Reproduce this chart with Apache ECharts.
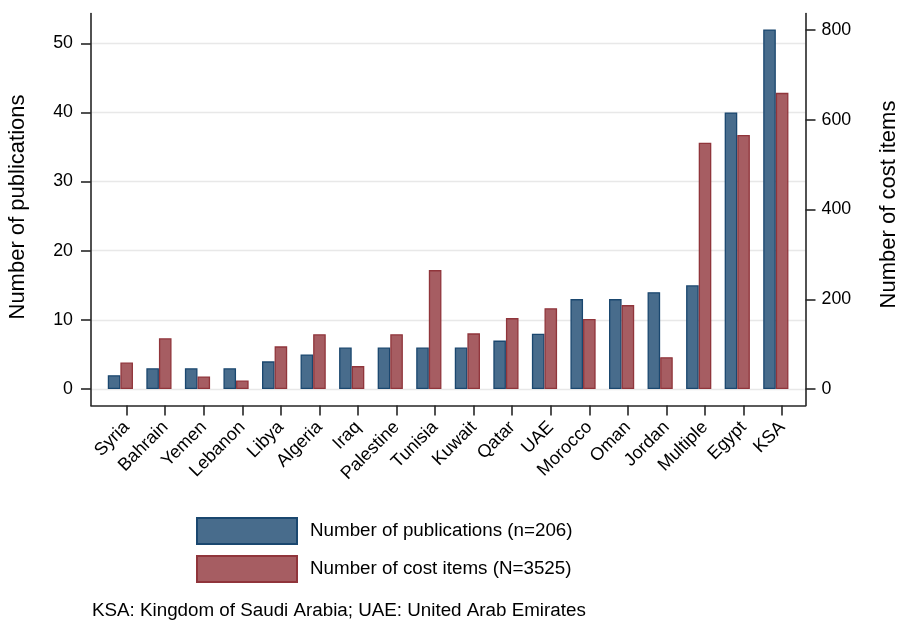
<!DOCTYPE html>
<html>
<head>
<meta charset="utf-8">
<script src="https://cdn.jsdelivr.net/npm/echarts@6/dist/echarts.min.js"></script>
<style>
  html, body { margin: 0; padding: 0; background: #ffffff; }
  #chart { width: 899px; height: 624px; }
</style>
</head>
<body>
<div id="chart"></div>
<script>
// Countries, ordered by number of publications
const categories = ['Syria', 'Bahrain', 'Yemen', 'Lebanon', 'Libya', 'Algeria', 'Iraq', 'Palestine',
  'Tunisia', 'Kuwait', 'Qatar', 'UAE', 'Morocco', 'Oman', 'Jordan', 'Multiple', 'Egypt', 'KSA'];

// Number of publications per country (left axis)
const publications = [2, 3, 3, 3, 4, 5, 6, 6, 6, 6, 7, 8, 13, 13, 14, 15, 40, 52];

// Number of cost items per country (right axis)
const costItems = [59, 113, 28, 19, 95, 122, 51, 122, 265, 124, 158, 180, 156, 187, 71, 549, 566, 660];

// Tick labels
const leftTicks = [0, 10, 20, 30, 40, 50];
const rightTicks = [0, 200, 400, 600, 800];

const seriesNames = ['Number of publications (n=206)', 'Number of cost items (N=3525)'];
const noteText = 'KSA: Kingdom of Saudi Arabia; UAE: United Arab Emirates';

// Axis extents: both value axes share the zero line, with a margin below zero
const LEFT_MIN = -2.386, LEFT_MAX = 54.31;
const RIGHT_MIN = -36.77, RIGHT_MAX = 836.8;

const FONT = "'Liberation Sans', Arial, Helvetica, sans-serif";
const NAVY = '#1a476f', NAVY_FILL = '#486c8c';
const MAROON = '#90353b', MAROON_FILL = '#a65d62';
const AXIS_COLOR = '#262626';

const chart = echarts.init(document.getElementById('chart'), null, { renderer: 'canvas' });

const hiddenAxis = {
  axisLine: { show: false }, axisTick: { show: false },
  axisLabel: { show: false }, splitLine: { show: false }
};

const gridBase = { top: 13.5, bottom: 218.5, outerBoundsMode: 'none', containLabel: false };

const option = {
  backgroundColor: '#ffffff',
  animation: false,
  textStyle: { fontFamily: FONT, color: '#000' },
  title: {
    text: noteText,
    left: 92, top: 601, padding: 0,
    textStyle: { fontFamily: FONT, fontSize: 18.8, fontWeight: 'normal', color: '#000' }
  },
  legend: {
    orient: 'vertical',
    left: 196, top: 517, padding: 0,
    itemWidth: 100, itemHeight: 26, itemGap: 10,
    icon: 'rect',
    textStyle: { fontFamily: FONT, fontSize: 18.8, color: '#000', padding: [0, 0, 0, 8] },
    data: seriesNames
  },
  grid: [
    // frame: axis lines, gridlines, value labels
    Object.assign({ left: 91, right: 93.5 }, gridBase),
    // bars
    Object.assign({ left: 101.1, width: 694 }, gridBase),
    // category ticks and labels
    Object.assign({ left: 107.4, width: 694 }, gridBase)
  ],
  xAxis: [
    {
      gridIndex: 0, type: 'value', min: 0, max: 1, position: 'bottom',
      axisLine: { show: true, onZero: false, lineStyle: { color: AXIS_COLOR, width: 1.6 } },
      axisTick: { show: false }, axisLabel: { show: false }, splitLine: { show: false }
    },
    Object.assign({ gridIndex: 1, type: 'category', data: categories }, hiddenAxis),
    {
      gridIndex: 2, type: 'category', data: categories, position: 'bottom',
      axisLine: { show: false, onZero: false },
      axisTick: { show: true, alignWithLabel: true, length: 10, inside: false,
        lineStyle: { color: AXIS_COLOR, width: 1.6 } },
      axisLabel: { interval: 0, rotate: 45, margin: 19, fontSize: 18, fontFamily: FONT, color: '#000' },
      splitLine: { show: false }
    }
  ],
  yAxis: [
    {
      gridIndex: 0, type: 'value', min: LEFT_MIN, max: LEFT_MAX, position: 'left',
      name: 'Number of publications', nameLocation: 'middle', nameGap: 62, nameRotate: 90,
      nameTextStyle: { fontFamily: FONT, fontSize: 22, color: '#000', padding: [0, 0, 0, 5] },
      axisLine: { show: true, onZero: false, lineStyle: { color: AXIS_COLOR, width: 1.6 } },
      axisTick: { show: true, length: 10, customValues: leftTicks, lineStyle: { color: AXIS_COLOR, width: 1.6 } },
      axisLabel: { customValues: leftTicks, margin: 18, fontSize: 17.8, fontFamily: FONT, color: '#000' },
      splitLine: { show: true, lineStyle: { color: '#e8e8e8', width: 1.4 } }
    },
    {
      gridIndex: 0, type: 'value', min: RIGHT_MIN, max: RIGHT_MAX, position: 'right',
      name: 'Number of cost items', nameLocation: 'middle', nameGap: 72, nameRotate: 90,
      nameTextStyle: { fontFamily: FONT, fontSize: 22, color: '#000', padding: [0, 0, 0, 10] },
      axisLine: { show: true, onZero: false, lineStyle: { color: AXIS_COLOR, width: 1.6 } },
      axisTick: { show: true, length: 10, customValues: rightTicks, lineStyle: { color: AXIS_COLOR, width: 1.6 } },
      axisLabel: { customValues: rightTicks, margin: 16, fontSize: 17.8, fontFamily: FONT, color: '#000' },
      splitLine: { show: false }
    },
    Object.assign({ gridIndex: 1, type: 'value', min: LEFT_MIN, max: LEFT_MAX }, hiddenAxis),
    Object.assign({ gridIndex: 1, type: 'value', min: RIGHT_MIN, max: RIGHT_MAX, position: 'right' }, hiddenAxis),
    Object.assign({ gridIndex: 2, type: 'value', min: 0, max: 1 }, hiddenAxis)
  ],
  series: [
    {
      name: seriesNames[0], type: 'bar', xAxisIndex: 1, yAxisIndex: 2,
      data: publications, barWidth: 12.6, barGap: '0%',
      itemStyle: { color: NAVY_FILL, borderColor: NAVY, borderWidth: 1.3 }
    },
    {
      name: seriesNames[1], type: 'bar', xAxisIndex: 1, yAxisIndex: 3,
      data: costItems, barWidth: 12.6, barGap: '0%',
      itemStyle: { color: MAROON_FILL, borderColor: MAROON, borderWidth: 1.3 }
    }
  ]
};

chart.setOption(option);
</script>
</body>
</html>
